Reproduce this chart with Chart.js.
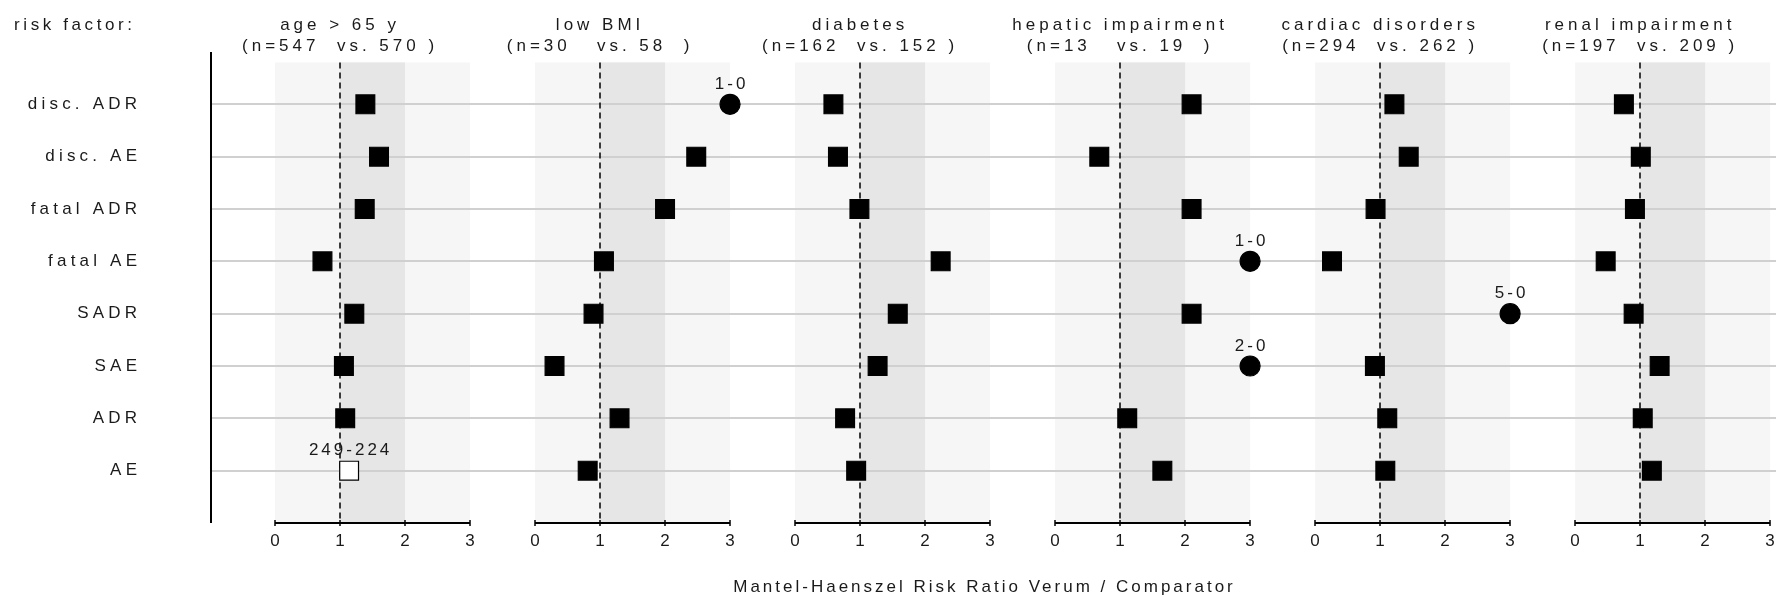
<!DOCTYPE html>
<html>
<head>
<meta charset="utf-8">
<title>Mantel-Haenszel risk ratios by risk factor</title>
<script src="https://cdn.jsdelivr.net/npm/chart.js@4.4.1/dist/chart.umd.min.js"></script>
<style>
  html, body { margin: 0; padding: 0; background: #fff; }
  canvas { display: block; }
</style>
</head>
<body>
<canvas id="chart" width="1776" height="597"></canvas>
<script>
const outcomes = ['disc. ADR', 'disc. AE', 'fatal ADR', 'fatal AE', 'SADR', 'SAE', 'ADR', 'AE']
const riskFactors = ['age > 65 y', 'low BMI', 'diabetes', 'hepatic impairment', 'cardiac disorders', 'renal impairment']
const verumN = [547, 30, 162, 13, 294, 197]
const comparatorN = [570, 58, 152, 19, 262, 209]
const xTicks = [0, 1, 2, 3]

// risk ratio verum / comparator per outcome; no comparator events -> capped at 3
const ageOver65 = [1.39, 1.60, 1.38, 0.73, 1.22, 1.06, 1.08, 1.14]
const lowBmi = [3, 2.48, 2.00, 1.06, 0.90, 0.30, 1.30, 0.81]
const diabetes = [0.59, 0.66, 0.99, 2.24, 1.58, 1.27, 0.77, 0.94]
const hepatic = [2.10, 0.68, 2.10, 3, 2.10, 3, 1.11, 1.65]
const cardiac = [1.22, 1.44, 0.93, 0.26, 3, 0.92, 1.11, 1.08]
const renal = [0.75, 1.01, 0.92, 0.47, 0.90, 1.30, 1.04, 1.18]

// event counts (verum-comparator) printed above some marks
const countLabels = [
  { factor: 0, outcome: 7, text: '249-224' },
  { factor: 1, outcome: 0, text: '1-0' },
  { factor: 3, outcome: 3, text: '1-0' },
  { factor: 3, outcome: 5, text: '2-0' },
  { factor: 4, outcome: 4, text: '5-0' }
]

const ratioSets = [ageOver65, lowBmi, diabetes, hepatic, cardiac, renal]
const RR_MAX = 3
const PANEL_STEP = 4
const SHADE_TOP = -0.8
const FONT = '17px "Liberation Sans", Arial, sans-serif'
const TEXT_COLOR = '#1a1a1a'

function hasCount(f, r) {
  return countLabels.some(l => l.factor === f && l.outcome === r)
}

const datasets = ratioSets.map((ratios, f) => ({
  label: riskFactors[f],
  data: ratios.map((v, r) => ({ x: f * PANEL_STEP + v, y: r })),
  pointStyle: ctx => ratios[ctx.dataIndex] >= RR_MAX ? 'circle' : 'rect',
  pointRadius: ctx => ratios[ctx.dataIndex] >= RR_MAX ? 10 : 13.3,
  backgroundColor: ctx => (ratios[ctx.dataIndex] < RR_MAX && hasCount(f, ctx.dataIndex)) ? '#fff' : '#000',
  borderColor: '#000',
  borderWidth: 1.2,
  showLine: false
}))

function spacedText(ctx, text, x, y, align, spacing) {
  ctx.letterSpacing = spacing + 'px'
  const w = ctx.measureText(text).width
  let left = x
  if (align === 'center') left = x - (w - spacing) / 2
  if (align === 'right') left = x - (w - spacing)
  ctx.textAlign = 'left'
  ctx.fillText(text, left, y)
  ctx.letterSpacing = '0px'
}

function nLabel(n) {
  return String(n).padEnd(3, ' ')
}

const panelDecor = {
  id: 'panelDecor',
  beforeDatasetsDraw(chart) {
    const { ctx, chartArea, scales: { x, y } } = chart
    const top = y.getPixelForValue(SHADE_TOP)
    const bottom = chartArea.bottom
    ctx.save()

    // shaded 0-3 band with darker 1-2 band
    riskFactors.forEach((_, f) => {
      const px = v => x.getPixelForValue(f * PANEL_STEP + v)
      ctx.fillStyle = '#f6f6f6'
      ctx.fillRect(px(0), top, px(3) - px(0), bottom - top)
      ctx.fillStyle = '#e6e6e6'
      ctx.fillRect(px(1), top, px(2) - px(1), bottom - top)
    })

    // outcome guide lines
    ctx.strokeStyle = '#d0d0d0'
    ctx.lineWidth = 2
    outcomes.forEach((_, r) => {
      const py = Math.round(y.getPixelForValue(r))
      ctx.beginPath()
      ctx.moveTo(chartArea.left, py)
      ctx.lineTo(chartArea.right, py)
      ctx.stroke()
    })

    // no-effect line at RR = 1
    ctx.strokeStyle = '#000'
    ctx.lineWidth = 1.5
    ctx.setLineDash([6, 4])
    riskFactors.forEach((_, f) => {
      const px = Math.round(x.getPixelForValue(f * PANEL_STEP + 1))
      ctx.beginPath()
      ctx.moveTo(px, top)
      ctx.lineTo(px, bottom)
      ctx.stroke()
    })
    ctx.setLineDash([])

    // left axis line
    ctx.lineWidth = 2
    ctx.beginPath()
    ctx.moveTo(chartArea.left + 1, chartArea.top)
    ctx.lineTo(chartArea.left + 1, bottom)
    ctx.stroke()
    ctx.restore()
  },
  afterDatasetsDraw(chart) {
    const { ctx, chartArea, scales: { x, y } } = chart
    const bottom = chartArea.bottom
    ctx.save()
    ctx.font = FONT
    ctx.fillStyle = TEXT_COLOR
    ctx.textBaseline = 'middle'

    riskFactors.forEach((name, f) => {
      const px = v => x.getPixelForValue(f * PANEL_STEP + v)

      // panel x axis with ticks
      ctx.strokeStyle = '#000'
      ctx.lineWidth = 2
      ctx.beginPath()
      ctx.moveTo(px(0), bottom)
      ctx.lineTo(px(3), bottom)
      ctx.stroke()
      ctx.lineWidth = 1.5
      xTicks.forEach(t => {
        const tx = Math.round(px(t))
        ctx.beginPath()
        ctx.moveTo(tx, bottom - 3)
        ctx.lineTo(tx, bottom + 3)
        ctx.stroke()
        ctx.textAlign = 'center'
        ctx.fillText(String(t), tx, bottom + 18)
      })

      // panel heading
      const cx = px(0.97)
      spacedText(ctx, name, cx, 25, 'center', 4)
      spacedText(ctx, '(n=' + nLabel(verumN[f]) + '  vs. ' + nLabel(comparatorN[f]) + ' )', cx, 46.5, 'center', 4)
    })

    // event counts above marks
    countLabels.forEach(l => {
      const v = ratioSets[l.factor][l.outcome]
      const px = x.getPixelForValue(l.factor * PANEL_STEP + v)
      const py = y.getPixelForValue(l.outcome)
      spacedText(ctx, l.text, px, py - 20, 'center', 3)
    })

    // outcome names
    outcomes.forEach((name, r) => {
      spacedText(ctx, name, 137, y.getPixelForValue(r), 'right', 4.2)
    })

    spacedText(ctx, 'risk factor:', 14, 25, 'left', 3.6)
    spacedText(ctx, 'Mantel-Haenszel Risk Ratio Verum / Comparator',
      (chartArea.left + chartArea.right) / 2 - 10, 587, 'center', 3)
    ctx.restore()
  }
}

new Chart(document.getElementById('chart'), {
  type: 'scatter',
  data: { datasets: datasets },
  options: {
    responsive: false,
    animation: false,
    events: [],
    layout: { autoPadding: false, padding: { left: 210, right: 0, top: 52, bottom: 74 } },
    scales: {
      x: { type: 'linear', min: -1, max: 23.09, display: false },
      y: { type: 'linear', min: -1, max: 8, reverse: true, display: false }
    },
    plugins: {
      legend: { display: false },
      tooltip: { enabled: false }
    }
  },
  plugins: [panelDecor]
})
</script>
</body>
</html>
